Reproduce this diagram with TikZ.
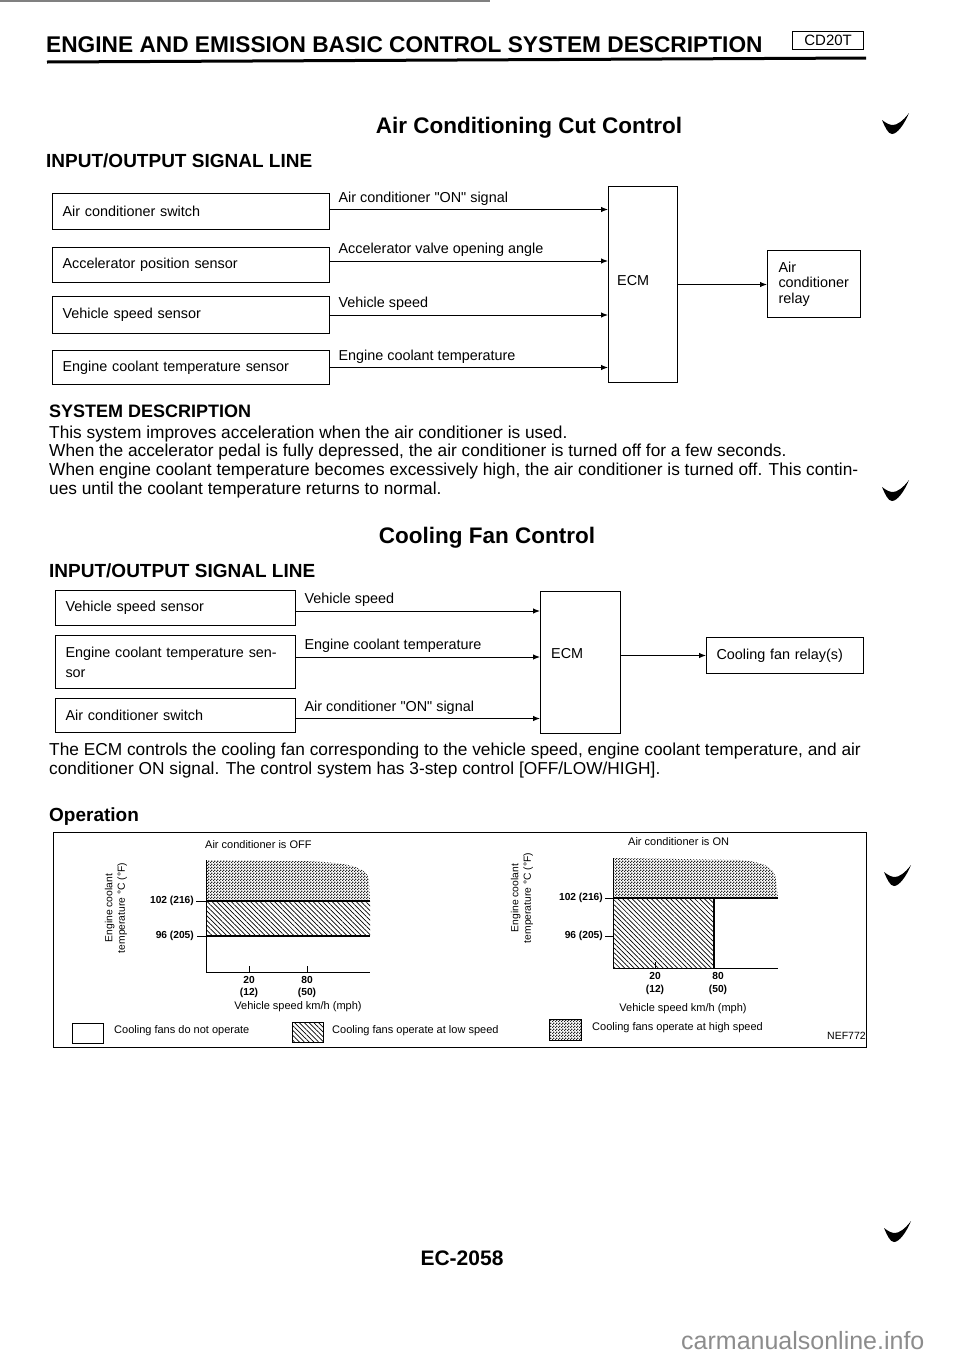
\documentclass[tikz,border=0pt]{standalone}
\usepackage{fontspec}
\setmainfont{Liberation Sans}[Ligatures=TeXOff]
\usetikzlibrary{arrows.meta,patterns.meta}
\newcommand{\fsz}[1]{\fontsize{#1}{#1}\selectfont}
\tikzdeclarepattern{name=cdots, type=uncolored,
  bounding box={(0pt,0pt) and (3pt,3pt)}, tile size={(3pt,3pt)},
  code={\fill (0pt,0pt) rectangle (1.5pt,1.5pt); \fill (1.5pt,1.5pt) rectangle (3pt,3pt);}}
\begin{document}
\begin{tikzpicture}[x=1pt,y=-1pt,
  every node/.style={inner sep=0pt},
  txt/.style={anchor=base west, inner sep=0pt},
  body/.style={txt, font=\fsz{17.3}},
  inbox/.style={draw, line width=1pt, anchor=north west, align=left, inner xsep=10pt, inner ysep=0pt, font=\fsz{14.4}},
  blk/.style={draw, line width=1pt, anchor=north west, inner sep=0pt},
  lbl/.style={font=\fsz{14.4}},
  sig/.style={pos=0, anchor=south west, inner xsep=8pt, inner ysep=4pt, font=\fsz{14.4}},
  arr/.style={-{Latex[length=7pt,width=5.5pt]}, line width=1pt},
  small/.style={font=\fsz{11}},
  num/.style={font=\bfseries\fsz{10.2}},
  ylab/.style={rotate=90, align=center, font=\fontsize{10.3}{12.5}\selectfont},
  axis/.style={line width=1pt},
  thick line/.style={line width=2pt},
  hi/.style={pattern=cdots, pattern color=black!85},
  lo/.style={pattern={Lines[angle=-45, distance=3.4pt, line width=0.7pt]}},
  tick/.pic={\fill (0,7) .. controls (3,14) and (6,21) .. (10,21) .. controls (15,21) and (22,12) .. (27,0)
     .. controls (21,8) and (15,12) .. (11,12) .. controls (7,12) and (4,10) .. (0,7) -- cycle;}
]
\useasboundingbox (0,0) rectangle (960,1358);
\fill[white] (0,0) rectangle (960,1358);

% scan artefact
\draw[gray, line width=1.5pt] (0,1) -- (490,1);

% header
\node[txt, font=\bfseries\fsz{22.7}] (title) at (46,52) {ENGINE AND EMISSION BASIC CONTROL SYSTEM DESCRIPTION};
\node[draw, line width=1.2pt, anchor=north west, minimum width=71, minimum height=18, font=\fsz{15}] (code) at (792,31) {CD20T};
\draw[line width=3pt] (47,62) -- (866,58);

% checkmarks
\pic at (882,113) {tick};
\pic at (882,480) {tick};
\pic at (884,865) {tick};
\pic at (884,1221) {tick};

% ---------------- Air Conditioning Cut Control
\node[anchor=base, font=\bfseries\fsz{22.5}] (acc) at (529,133) {Air Conditioning Cut Control};
\node[txt, font=\bfseries\fsz{19}] (io1) at (46,167) {INPUT/OUTPUT SIGNAL LINE};

\node[inbox, text width=257, minimum height=36] (a1) at (52,193) {Air conditioner switch};
\node[inbox, text width=257, minimum height=35] (a2) at (52,247) {Accelerator position sensor};
\node[inbox, text width=257, minimum height=37] (a3) at (52,296) {Vehicle speed sensor};
\node[inbox, text width=257, minimum height=34] (a4) at (52,350) {Engine coolant temperature sensor};
\node[blk, minimum width=69, minimum height=196] (ecm1) at (608,186) {};
\node[lbl, anchor=west] (ecm1l) at ([xshift=9pt, yshift=4pt]ecm1.west) {ECM};
\node[draw, line width=1pt, anchor=north west, align=left, text width=71, inner xsep=11pt, minimum height=67, font=\fontsize{14.4}{15.5}\selectfont] (relay1) at (767,250) {Air\\conditioner\\relay};

\draw[arr] ([yshift=2pt]a1.east) -- node[sig] {Air conditioner "ON" signal} ([yshift=2pt]a1.east -| ecm1.west);
\draw[arr] ([yshift=4pt]a2.east) -- node[sig] {Accelerator valve opening angle} ([yshift=4pt]a2.east -| ecm1.west);
\draw[arr] (a3.east) -- node[sig] {Vehicle speed} (a3.east -| ecm1.west);
\draw[arr] (a4.east) -- node[sig] {Engine coolant temperature} (a4.east -| ecm1.west);
\draw[arr] (ecm1.east) -- (ecm1.east -| relay1.west);

% system description
\node[txt, font=\bfseries\fsz{18}] (sd) at (49,417) {SYSTEM DESCRIPTION};
\node[body] (s1) at (49,438) {This system improves acceleration when the air conditioner is used.};
\node[body] (s2) at (49,456) {When the accelerator pedal is fully depressed, the air conditioner is turned off for a few seconds.};
\node[body] (s3) at (49,475) {When engine coolant temperature becomes excessively high, the air conditioner is turned off. This contin-};
\node[body] (s4) at (49,494) {ues until the coolant temperature returns to normal.};

% ---------------- Cooling Fan Control
\node[anchor=base, font=\bfseries\fsz{22.5}] (cfc) at (487,543) {Cooling Fan Control};
\node[txt, font=\bfseries\fsz{19}] (io2) at (49,577) {INPUT/OUTPUT SIGNAL LINE};

\node[inbox, text width=220, minimum height=35] (c1) at (55,590) {Vehicle speed sensor};
\node[inbox, text width=220, minimum height=53, font=\fontsize{14.4}{20}\selectfont] (c2) at (55,635) {Engine coolant temperature sen-\\sor};
\node[inbox, text width=220, minimum height=34] (c3) at (55,698) {Air conditioner switch};
\node[blk, minimum width=80, minimum height=142] (ecm2) at (540,591) {};
\node[lbl, anchor=west] (ecm2l) at ([xshift=11pt, yshift=9pt]ecm2.west) {ECM};
\node[inbox, text width=137, minimum height=36] (relay2) at (706,637) {Cooling fan relay(s)};

\draw[arr] ([yshift=-3pt]c1.east) -- node[sig] {Vehicle speed} ([yshift=-3pt]c1.east -| ecm2.west);
\draw[arr] ([yshift=5pt]c2.east) -- node[sig] {Engine coolant temperature} ([yshift=5pt]c2.east -| ecm2.west);
\draw[arr] ([yshift=-3pt]c3.east) -- node[sig] {Air conditioner "ON" signal} ([yshift=-3pt]c3.east -| ecm2.west);
\draw[arr] (ecm2.east |- relay2.west) -- (relay2.west);

\node[body] (t1) at (49,755) {The ECM controls the cooling fan corresponding to the vehicle speed, engine coolant temperature, and air};
\node[body] (t2) at (49,774) {conditioner ON signal. The control system has 3-step control [OFF/LOW/HIGH].};

% ---------------- Operation
\node[txt, font=\bfseries\fsz{19}] (op) at (49,821) {Operation};
\draw[line width=1pt] (53,832) rectangle (866,1047);

% left chart
\node[small, anchor=west] (offt) at (205,845) {Air conditioner is OFF};
\fill[hi] (206,860) -- (300,861) .. controls (345,862) and (367,866) .. (369,880) -- (370,901) -- (206,901) -- cycle;
\fill[lo] (206,901) rectangle (370,936);
\draw[thick line] (206,901) -- (370,901);
\draw[thick line] (206,936) -- (370,936);
\draw[axis] (206,860) -- (206,972) -- (370,972);
\draw (196,901) -- (206,901);
\draw (197,936) -- (206,936);
\draw (249,966) -- (249,972);
\draw (307,966) -- (307,972);
\node[num, anchor=east] (l102) at (194,901) {102 (216)};
\node[num, anchor=east] (l96) at (194,936) {96 (205)};
\node[ylab] (lyl) at (116,908) {Engine coolant\\temperature °C (°F)};
\node[num] (l20) at (249,980) {20};
\node[num] (l12) at (249,993) {(12)};
\node[num] (l80) at (307,980) {80};
\node[num] (l50) at (307,993) {(50)};
\node[small] (lx) at (298,1007) {Vehicle speed km/h (mph)};

% right chart
\node[small, anchor=west] (ont) at (628,842) {Air conditioner is ON};
\fill[hi] (613,858) -- (740,860) .. controls (765,862) and (775,868) .. (776,880) -- (778,898) -- (613,898) -- cycle;
\fill[lo] (613,898) rectangle (714,968);
\draw[thick line] (613,898) -- (778,898);
\draw[thick line] (714,898) -- (714,968);
\draw[axis] (613,858) -- (613,968) -- (778,968);
\draw (605,898) -- (613,898);
\draw (605,936) -- (613,936);
\draw (655,962) -- (655,968);
\node[num, anchor=east] (r102) at (603,898) {102 (216)};
\node[num, anchor=east] (r96) at (603,936) {96 (205)};
\node[ylab] (ryl) at (522,898) {Engine coolant\\temperature °C (°F)};
\node[num] (r20) at (655,976) {20};
\node[num] (r12) at (655,990) {(12)};
\node[num] (r80) at (718,976) {80};
\node[num] (r50) at (718,990) {(50)};
\node[small] (rx) at (683,1009) {Vehicle speed km/h (mph)};

% legend
\draw[line width=0.8pt] (72,1023) rectangle (103,1043);
\node[small, anchor=west] (lg1) at (114,1031) {Cooling fans do not operate};
\fill[lo] (292,1022) rectangle (323,1042);
\draw[line width=0.8pt] (292,1022) rectangle (323,1042);
\node[small, anchor=west] (lg2) at (332,1031) {Cooling fans operate at low speed};
\fill[hi] (549,1019) rectangle (581,1040);
\draw[line width=0.8pt] (549,1019) rectangle (581,1040);
\node[small, anchor=west] (lg3) at (592,1028) {Cooling fans operate at high speed};
\node[anchor=west, font=\fsz{10.5}] (nef) at (827,1036) {NEF772};

% footer
\node[anchor=base, font=\bfseries\fsz{21}] (page) at (462,1265) {EC-2058};
\node[txt, font=\fsz{25}, text=black!45] (wm) at (681,1349) {carmanualsonline.info};
\end{tikzpicture}
\end{document}
